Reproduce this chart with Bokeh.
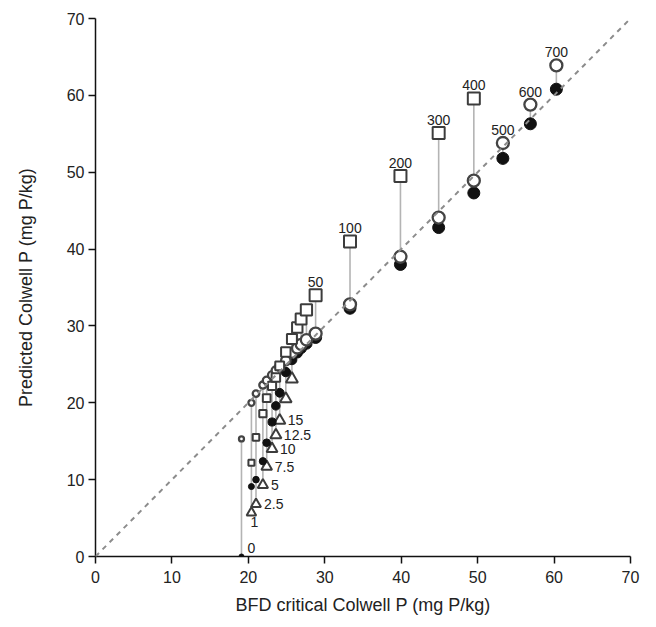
import numpy as np
from bokeh.plotting import figure
from bokeh.models import Range1d, ColumnDataSource, Slope, FixedTicker
from bokeh.core.properties import value
from bokeh.embed import file_html
from bokeh.resources import INLINE

nan = np.nan

# P rates and BFD critical Colwell P (x)
rates = [0, 1, 2.5, 5, 7.5, 10, 12.5, 15, 20, 25, 30, 35, 40, 50,
         100, 200, 300, 400, 500, 600, 700]
bfd_critical = [19.1, 20.4, 21.0, 21.9, 22.4, 23.1, 23.6, 24.1, 24.9, 25.7, 26.4, 26.9, 27.6, 28.8,
                33.3, 39.9, 44.9, 49.5, 53.3, 56.9, 60.3]
# predicted Colwell P by marker series
pred_square = [nan, 12.2, 15.5, 18.6, 20.6, 22.2, 23.3, 24.8, 26.6, 28.3, 29.8, 30.9, 32.1, 34.0,
               41.0, 49.5, 55.1, 59.6, nan, nan, nan]
pred_open = [15.3, 20.0, 21.2, 22.3, 22.9, 23.6, 24.2, 24.7, 25.5, 26.5, 27.1, 27.6, 28.2, 29.0,
             32.8, 39.0, 44.1, 48.9, 53.8, 58.8, 63.9]
pred_filled = [0.0, 9.1, 10.0, 12.4, 14.8, 17.5, 19.6, 21.3, 24.0, 25.6, 26.5, 27.1, 27.7, 28.5,
               32.3, 38.0, 42.8, 47.3, 51.8, 56.3, 60.8]
pred_triangle = [nan, 5.7, 6.8, 9.3, 11.7, 14.0, 15.8, 17.7, 20.5, 23.1, nan, nan, nan, nan,
                 nan, nan, nan, nan, nan, nan, nan]
rate_labels = ["0", "1", "2.5", "5", "7.5", "10", "12.5", "15", "", "", "", "", "", "50",
               "100", "200", "300", "400", "500", "600", "700"]
x_ticks = [0, 10, 20, 30, 40, 50, 60, 70]
y_ticks = [0, 10, 20, 30, 40, 50, 60, 70]

FONT = "Liberation Sans"

x = np.array(bfd_critical)
sq = np.array(pred_square)
op = np.array(pred_open)
fi = np.array(pred_filled)
tr = np.array(pred_triangle)
r = np.array(rates, dtype=float)
allp = np.vstack([sq, op, fi, tr])
ymin = np.nanmin(allp, axis=0)
ymax = np.nanmax(allp, axis=0)

# marker size grows with rate (style mapping)
msize = 5 + 7 * np.sqrt(np.minimum(r, 50) / 50)
tsize = 9 + 3 * np.sqrt(np.minimum(r, 25) / 25)

p = figure(width=650, height=618, output_backend="svg", toolbar_location=None,
           x_range=Range1d(0, 70), y_range=Range1d(0, 70),
           min_border_left=95, min_border_right=20, min_border_top=18, min_border_bottom=62)
p.outline_line_color = None
p.grid.visible = False
p.background_fill_color = "white"
p.border_fill_color = "white"

p.add_layout(Slope(gradient=1, y_intercept=0, line_color="#8c8c8c", line_width=2,
                   line_dash="5 5"))

seg = ColumnDataSource(dict(x=x, y0=ymin, y1=ymax))
p.segment(x0="x", y0="y0", x1="x", y1="y1", source=seg, line_color="#b4b4b4", line_width=1.6)

src = ColumnDataSource(dict(x=x, sq=sq, op=op, fi=fi, tr=tr, ms=msize, ts=tsize))
p.scatter("x", "tr", source=src, marker="triangle", size="ts", fill_color="white",
          line_color="#3c3c3c", line_width=2)
p.scatter("x", "fi", source=src, marker="circle", size="ms", fill_color="#111111",
          line_color="#111111", line_width=1)
p.scatter("x", "op", source=src, marker="circle", size="ms", fill_color="white",
          line_color="#444444", line_width=2.3)
p.scatter("x", "sq", source=src, marker="square", size="ms", fill_color="white",
          line_color="#3c3c3c", line_width=2)

# label anchors
lab_x, lab_y, lab_t, lab_dx, lab_dy, lab_align, lab_base = [], [], [], [], [], [], []
for i, t in enumerate(rate_labels):
    if not t:
        continue
    lab_t.append(t)
    lab_x.append(x[i])
    if r[i] == 0:
        lab_y.append(fi[i]); lab_dx.append(6); lab_dy.append(-4)
        lab_align.append("left"); lab_base.append("bottom")
    elif r[i] == 1:
        lab_y.append(tr[i]); lab_dx.append(3); lab_dy.append(4)
        lab_align.append("center"); lab_base.append("top")
    elif r[i] <= 15:
        lab_y.append(tr[i]); lab_dx.append(8); lab_dy.append(0)
        lab_align.append("left"); lab_base.append("middle")
    else:
        lab_y.append(ymax[i]); lab_dx.append(0); lab_dy.append(-8)
        lab_align.append("center"); lab_base.append("bottom")
lab = ColumnDataSource(dict(x=lab_x, y=lab_y, t=lab_t, dx=lab_dx, dy=lab_dy,
                            al=lab_align, bl=lab_base))
p.text("x", "y", text="t", source=lab, x_offset="dx", y_offset="dy", text_align="al",
       text_baseline="bl", text_font=value(FONT), text_font_size="14px", text_color="#222222")

for ax in (p.xaxis[0], p.yaxis[0]):
    ax.axis_line_width = 1.5
    ax.axis_line_color = "#111111"
    ax.major_tick_line_color = "#111111"
    ax.major_tick_line_width = 1.5
    ax.major_tick_out = 7
    ax.major_tick_in = 0
    ax.minor_tick_line_color = None
    ax.major_label_text_font = FONT
    ax.major_label_text_font_size = "16px"
    ax.major_label_text_color = "#222222"
    ax.axis_label_text_font = FONT
    ax.axis_label_text_font_size = "18px"
    ax.axis_label_text_font_style = "normal"
    ax.axis_label_text_color = "#222222"

p.xaxis.major_label_standoff = 7
p.yaxis.major_label_standoff = 4
p.xaxis.ticker = FixedTicker(ticks=x_ticks)
p.yaxis.ticker = FixedTicker(ticks=y_ticks)
p.xaxis.axis_label = "BFD critical Colwell P (mg P/kg)"
p.yaxis.axis_label = "Predicted Colwell P (mg P/kg)"
p.xaxis.axis_label_standoff = 9
p.yaxis.axis_label_standoff = 28

open("out.html", "w").write(file_html(p, INLINE))
